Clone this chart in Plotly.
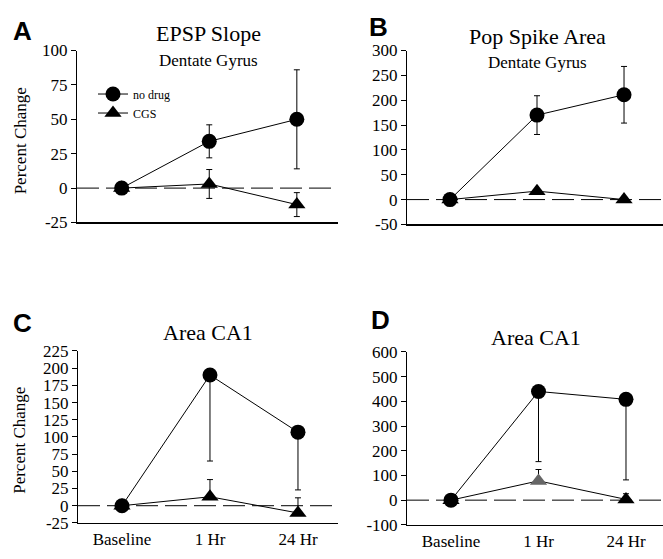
import plotly.graph_objects as go

W, H = 663, 559

# ---------------- data ----------------
categories = ["Baseline", "1 Hr", "24 Hr"]

# Panel A: EPSP slope, dentate gyrus
a_nodrug = [0, 34, 50]
a_nodrug_err = [0, 12, 36]
a_cgs = [0, 3, -12]
a_cgs_err = [0, 10.5, 8.7]

# Panel B: pop spike area, dentate gyrus
b_nodrug = [0, 170, 211]
b_nodrug_err = [0, 39, 57]
b_cgs = [0, 17, 0]
b_cgs_err = [0, 0, 0]

# Panel C: area CA1 (one-sided error bars)
c_nodrug = [0, 190, 107]
c_nodrug_err_minus = [0, 125, 84]
c_cgs = [0, 13, -10.5]
c_cgs_err_plus = [0, 25, 22]

# Panel D: area CA1 (one-sided error bars)
d_nodrug = [0, 440, 408]
d_nodrug_err_minus = [0, 284, 326]
d_cgs = [0, 78, 3]
d_cgs_err_plus = [0, 46, 23]

a_ticks = [100, 75, 50, 25, 0, -25]
b_ticks = [300, 250, 200, 150, 100, 50, 0, -50]
c_ticks = [225, 200, 175, 150, 125, 100, 75, 50, 25, 0, -25]
d_ticks = [600, 500, 400, 300, 200, 100, 0, -100]
a_ticktext = ["100", "75", "50", "25", "0", "-25"]
b_ticktext = ["300", "250", "200", "150", "100", "50", "0", "-50"]
c_ticktext = ["225", "200", "175", "150", "125", "100", "75", "50", "25", "0", "-25"]
d_ticktext = ["600", "500", "400", "300", "200", "100", "0", "-100"]

SERIF = "Liberation Serif"
SANS = "Liberation Sans"

def px_x(p):
    return p / W

def px_y(p):
    return 1 - p / H

fig = go.Figure()

# panel geometry (pixel boxes) and ranges
panels = [
    dict(name="A", x0=77, x1=338, ytop=43, ybot=221, xr=[-0.51, 2.47], yr=[-25, 100],
         ticks=a_ticks, ticktext=a_ticktext, xlabels=False),
    dict(name="B", x0=407, x1=663, ytop=43, ybot=223, xr=[-0.494, 2.448], yr=[-50, 300],
         ticks=b_ticks, ticktext=b_ticktext, xlabels=False),
    dict(name="C", x0=78, x1=338, ytop=354, ybot=532, xr=[-0.5, 2.455], yr=[-25, 225],
         ticks=c_ticks, ticktext=c_ticktext, xlabels=True),
    dict(name="D", x0=407, x1=663, ytop=355, ybot=534, xr=[-0.503, 2.423], yr=[-100, 600],
         ticks=d_ticks, ticktext=d_ticktext, xlabels=True),
]

layout_axes = {}
for i, p in enumerate(panels):
    n = "" if i == 0 else str(i + 1)
    layout_axes["xaxis" + n] = dict(
        domain=[px_x(p["x0"]), px_x(p["x1"])],
        anchor="y" + n,
        type="category",
        categoryorder="array",
        categoryarray=categories,
        range=p["xr"],
        showgrid=False, zeroline=False,
        showline=True, linecolor="black", linewidth=1.5,
        ticks="", showticklabels=p["xlabels"],
        tickfont=dict(family=SERIF, size=17, color="black"),
        fixedrange=True,
    )
    layout_axes["yaxis" + n] = dict(
        domain=[px_y(p["ybot"]), px_y(p["ytop"])],
        anchor="x" + n,
        range=p["yr"],
        showgrid=False, zeroline=False,
        showline=True, linecolor="black", linewidth=1,
        ticks="outside", ticklen=5, tickwidth=1, tickcolor="black",
        tickvals=p["ticks"], ticktext=p["ticktext"],
        tickfont=dict(family=SERIF, size=17, color="black"),
        fixedrange=True,
    )

def add_series(idx, yvals, marker, err, showlegend=False, name=None, color="black"):
    n = "" if idx == 0 else str(idx + 1)
    fig.add_trace(go.Scatter(
        x=categories, y=yvals, mode="lines+markers",
        name=name, showlegend=showlegend,
        line=dict(color="black", width=1),
        marker=dict(symbol=marker, size=15, color=color, line=dict(width=0)),
        error_y=err,
        xaxis="x" + n, yaxis="y" + n,
        hoverinfo="skip",
    ))

def sym(e):
    return dict(type="data", array=e, visible=True, color="black", thickness=1, width=3)

def down(e):
    return dict(type="data", symmetric=False, array=[0] * len(e), arrayminus=e,
                visible=True, color="black", thickness=1, width=3)

def up(e):
    return dict(type="data", symmetric=False, array=e, arrayminus=[0] * len(e),
                visible=True, color="black", thickness=1, width=3)

# Panel A
add_series(0, a_nodrug, "circle", sym(a_nodrug_err), showlegend=True, name="no drug")
add_series(0, a_cgs, "triangle-up", sym(a_cgs_err), showlegend=True, name="CGS")
# Panel B
add_series(1, b_nodrug, "circle", sym(b_nodrug_err))
add_series(1, b_cgs, "triangle-up", sym(b_cgs_err))
# Panel C
add_series(2, c_nodrug, "circle", down(c_nodrug_err_minus))
add_series(2, c_cgs, "triangle-up", up(c_cgs_err_plus))
# Panel D
add_series(3, d_nodrug, "circle", down(d_nodrug_err_minus))
add_series(3, d_cgs, "triangle-up", up(d_cgs_err_plus), color=["black", "#666666", "black"])

# dashed zero lines
shapes = []
for i, p in enumerate(panels):
    n = "" if i == 0 else str(i + 1)
    shapes.append(dict(type="line", xref="x" + n + " domain", yref="y" + n,
                       x0=0, x1=1, y0=0, y1=0, layer="below",
                       line=dict(color="black", width=1, dash="22px,7px")))

annotations = []
def ann(text, x, y, size, family=SERIF, bold=False, angle=0):
    annotations.append(dict(
        text=("<b>%s</b>" % text) if bold else text,
        x=px_x(x), y=px_y(y), xref="paper", yref="paper",
        xanchor="center", yanchor="middle", showarrow=False,
        textangle=angle, font=dict(family=family, size=size, color="black")))

ann("A", 22.5, 22.5, 26, SANS, bold=True)
ann("B", 378, 19, 26, SANS, bold=True)
ann("C", 22, 325, 26, SANS, bold=True)
ann("D", 381, 322, 26, SANS, bold=True)
ann("EPSP Slope", 208, 25, 22)
ann("Dentate Gyrus", 208, 53, 17)
ann("Pop Spike Area", 537, 28, 22)
ann("Dentate Gyrus", 537, 55, 17)
ann("Area CA1", 208, 335, 22)
ann("Area CA1", 536, 340, 22)
ann("Percent Change", 20, 137, 17, angle=-90)
ann("Percent Change", 20, 447, 17, angle=-90)

fig.update_layout(
    width=W, height=H, autosize=False,
    margin=dict(l=0, r=0, t=0, b=0),
    paper_bgcolor="white", plot_bgcolor="white",
    font=dict(family=SERIF, size=17, color="black"),
    showlegend=True,
    hovermode=False,
    legend=dict(x=px_x(93), y=px_y(73), xanchor="left", yanchor="top",
                bgcolor="rgba(0,0,0,0)", font=dict(family=SERIF, size=12, color="black"),
                tracegroupgap=0, itemwidth=30),
    shapes=shapes, annotations=annotations,
    **layout_axes,
)

fig.write_html("out.html",
               config={"displayModeBar": False, "staticPlot": True},
               post_script="document.body.style.margin='0';document.body.style.overflow='hidden';")
